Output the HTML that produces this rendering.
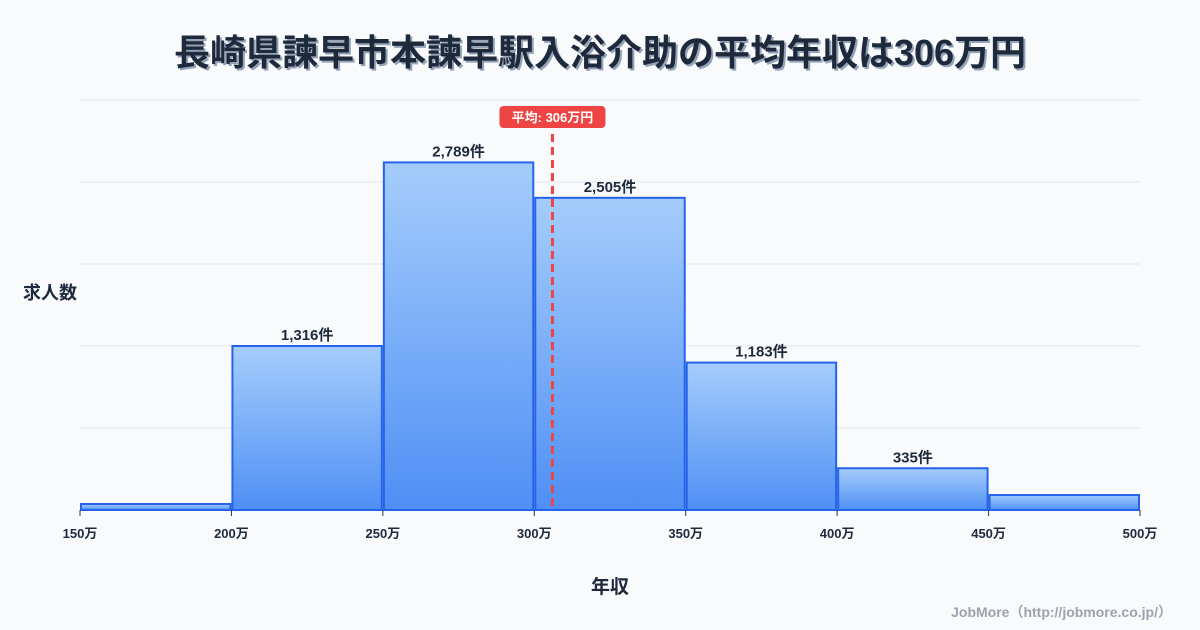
<!DOCTYPE html>
<html><head><meta charset="utf-8"><style>
body{margin:0;background:#f8fafc;font-family:"Liberation Sans","Noto Sans CJK JP",sans-serif;}
#c{position:relative;width:1200px;height:630px;overflow:hidden;}
</style></head><body>
<div id="c">
<svg id="s" width="1200" height="630" xmlns="http://www.w3.org/2000/svg">
<defs><linearGradient id="g" x1="0" y1="0" x2="0" y2="1"><stop offset="0" stop-color="#a5cdfb"/><stop offset="1" stop-color="#4f8ff5"/></linearGradient></defs>
<text x="602" y="67" text-anchor="middle" font-size="36" font-weight="bold" fill="#94a3b8">長崎県諫早市本諫早駅入浴介助の平均年収は306万円</text>
<text x="600" y="65" text-anchor="middle" font-size="36" font-weight="bold" fill="#1e293b">長崎県諫早市本諫早駅入浴介助の平均年収は306万円</text>
<text x="50" y="299" text-anchor="middle" font-size="18" font-weight="bold" fill="#1e293b">求人数</text>
<text x="610" y="593" text-anchor="middle" font-size="19" font-weight="bold" fill="#1e293b">年収</text>
<text x="1172" y="617" text-anchor="end" font-size="14" font-weight="bold" fill="#9ca3af">JobMore（http://jobmore.co.jp/）</text>
<g id="grid"></g><g id="bars"></g><g id="axis"></g><g id="mean"></g>
</svg></div>
<script>
const binStarts=[150,200,250,300,350,400,450];
const counts=[48,1316,2789,2505,1183,335,120];
const showLabel=[false,true,true,true,true,true,false];
const xTicks=[150,200,250,300,350,400,450,500];
const meanValue=306;
const yMax=3290;
const X=v=>80+(v-150)*(1060/350);
const Y=v=>510-v*(410/yMax);
const NS="http://www.w3.org/2000/svg";
function mk(t,a,p,txt){const e=document.createElementNS(NS,t);for(const k in a)e.setAttribute(k,a[k]);if(txt!=null)e.textContent=txt;p.appendChild(e);return e;}
const grid=document.getElementById('grid'),bars=document.getElementById('bars'),axis=document.getElementById('axis'),mean=document.getElementById('mean');
for(let i=0;i<=5;i++){const y=Y(yMax*i/5);const l=mk('line',{x1:80,x2:1140,y1:y,y2:y,stroke:'#e5e7eb','stroke-width':1},grid);

}
binStarts.forEach((b,i)=>{const x0=X(b)+1,x1=X(b+50)-1,y=Y(counts[i]);
const r=mk('rect',{x:x0,y:y,width:x1-x0,height:510-y,fill:'url(#g)',stroke:'#2563eb','stroke-width':2},bars);


if(showLabel[i]){const t=mk('text',{x:(x0+x1)/2,y:y-6,'text-anchor':'middle','font-size':15,'font-weight':'bold',fill:'#1e293b'},bars,counts[i].toLocaleString('en-US')+'件');

}});
xTicks.forEach(v=>{const x=X(v);const l=mk('line',{x1:x,x2:x,y1:510,y2:516,stroke:'#333','stroke-width':1},axis);


const t=mk('text',{x:x,y:538,'text-anchor':'middle','font-size':13,'font-weight':'bold',fill:'#1e293b'},axis,v+'万');

});
const mx=X(meanValue);
const ml=mk('line',{x1:mx,x2:mx,y1:134,y2:510,stroke:'#ef4444','stroke-width':3,'stroke-dasharray':'8,5'},mean);


const mb=mk('rect',{x:mx-53,y:106,width:106,height:22,rx:4,fill:'#ef4444'},mean);


const mt=mk('text',{x:mx,y:122,'text-anchor':'middle','font-size':13,'font-weight':'bold',fill:'#fff'},mean,'平均: '+meanValue+'万円');


</script></body></html>
